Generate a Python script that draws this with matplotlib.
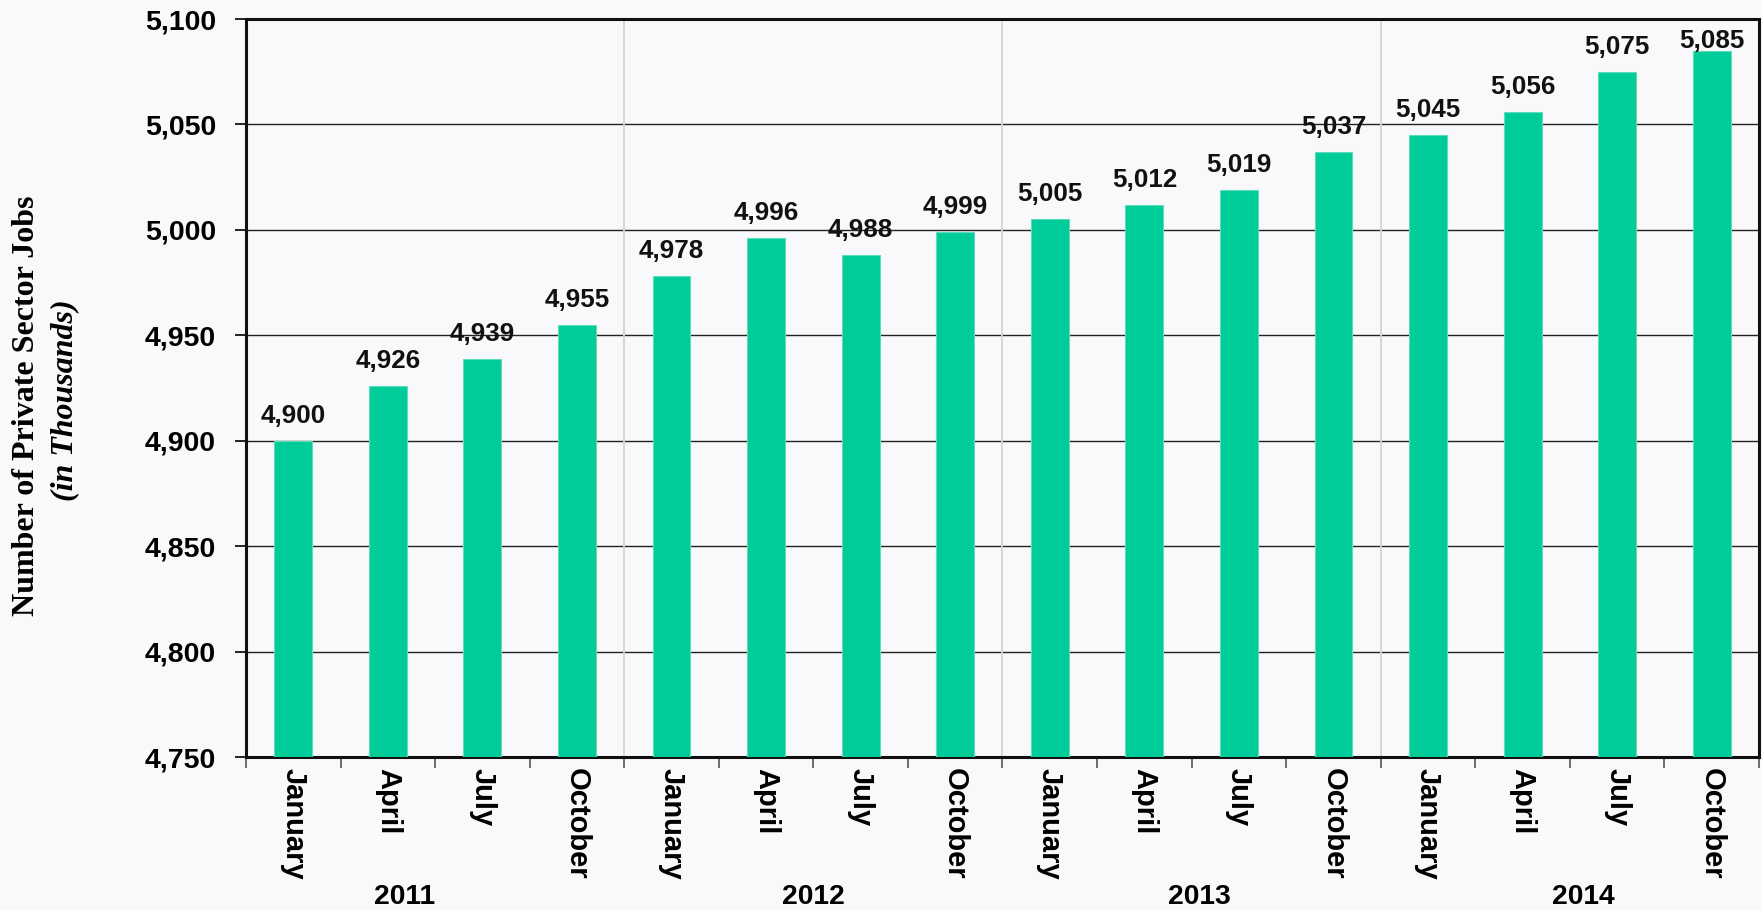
import matplotlib
matplotlib.use('Agg')
import matplotlib.pyplot as plt
import matplotlib.ticker as mticker
import matplotlib.transforms as mtrans
import numpy as np

# data
years = ['2011', '2012', '2013', '2014']
months = ['January', 'April', 'July', 'October']
jobs = [4900, 4926, 4939, 4955,
        4978, 4996, 4988, 4999,
        5005, 5012, 5019, 5037,
        5045, 5056, 5075, 5085]
y_ticks = [4750, 4800, 4850, 4900, 4950, 5000, 5050, 5100]

BAR = '#00CC99'
BG = '#F9F9FB'
SANS = 'Liberation Sans'
SERIF = 'Liberation Serif'

fig = plt.figure(figsize=(17.62, 9.10), dpi=100, facecolor=BG)
ax = fig.add_axes([0.1396, 0.1681, 0.8587, 0.8110])
ax.set_facecolor(BG)

x = np.arange(len(jobs))
tick_labels = months * len(years)

ax.bar(x, jobs, width=0.40, color=BAR, edgecolor='#5EDDBB', linewidth=0.8, zorder=3)

ax.set_xlim(-0.5, len(jobs) - 0.5)
ax.set_ylim(y_ticks[0], y_ticks[-1])

# horizontal grid
ax.set_yticks(y_ticks)
ax.yaxis.set_major_formatter(mticker.FuncFormatter(lambda v, p: f'{int(v):,}'))
ax.grid(True, axis='y', color='#222222', linewidth=1.0, zorder=1)
ax.set_axisbelow(True)

# year separators
for b in range(4, len(jobs), 4):
    ax.axvline(b - 0.5, color='#D4D4D4', linewidth=1.3, zorder=1)

# x ticks: labels at centres, tick marks at boundaries
ax.set_xticks(x)
ax.set_xticklabels(tick_labels, rotation=-90, fontsize=21, fontweight='bold',
                   family=SANS, va='top', ha='center')
ax.tick_params(axis='x', which='major', length=0, pad=8)
ax.set_xticks(np.arange(-0.5, len(jobs), 1), minor=True)
ax.tick_params(axis='x', which='minor', length=8, width=1.2, color='#555555', direction='out')

ax.tick_params(axis='y', length=8, width=1.2, pad=13.5, direction='out')
for lab in ax.get_yticklabels():
    lab.set_fontsize(20.5)
    lab.set_fontweight('bold')
    lab.set_family(SANS)

for s in ax.spines.values():
    s.set_linewidth(2.2)
    s.set_color('#111111')

# value labels (baseline above bar top, squeezed under the top frame)
top_cap = y_ticks[-1] - 13.7
for xi, v in zip(x, jobs):
    ax.text(xi, min(v + 8.5, top_cap), f'{v:,}', ha='center', va='baseline',
            fontsize=18.7, fontweight='bold', family=SANS, color='#111111',
            clip_on=False, zorder=5)

# year labels under month groups (hand-placed in the original, slightly off-centre)
year_shift = [-0.32, 0.0, 0.08, 0.14]
year_tr = mtrans.blended_transform_factory(ax.transData, fig.transFigure)
for i, yr in enumerate(years):
    ax.text(i * 4 + 1.5 + year_shift[i], 1 - 897 / 910, yr, transform=year_tr,
            ha='center', va='center', fontsize=20.3, fontweight='bold',
            family=SANS, clip_on=False)

# y axis title
fig.text(27 / 1762, 1 - 406 / 910, 'Number of Private Sector Jobs', rotation=90,
         ha='center', va='center', fontsize=23, fontweight='bold', family=SERIF)
fig.text(65 / 1762, 1 - 400 / 910, '(in Thousands)', rotation=90,
         ha='center', va='center', fontsize=23, fontweight='bold', style='italic', family=SERIF)

fig.savefig('out.png', dpi=100, facecolor=BG)
